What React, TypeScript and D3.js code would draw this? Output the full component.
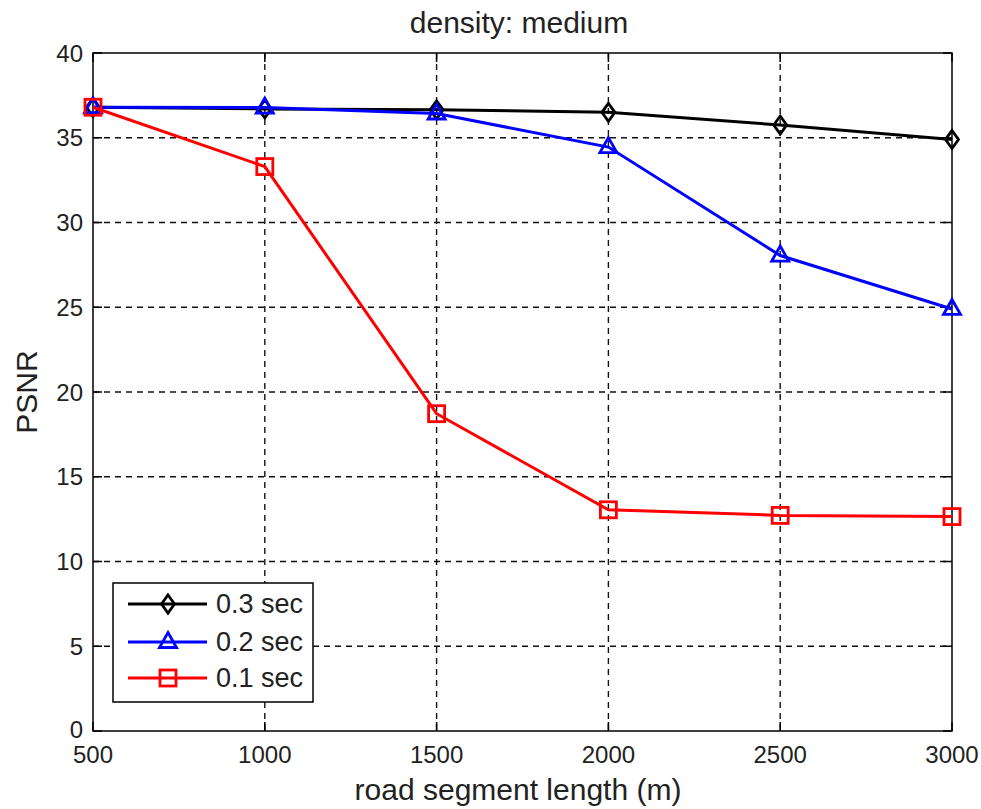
import React from "react";
import * as d3 from "d3";

const xValues = [500, 1000, 1500, 2000, 2500, 3000];
const series03 = [36.8, 36.7, 36.65, 36.5, 35.75, 34.9];
const series02 = [36.8, 36.78, 36.43, 34.45, 28.05, 24.9];
const series01 = [36.8, 33.3, 18.72, 13.05, 12.72, 12.65];
const xTicks = [500, 1000, 1500, 2000, 2500, 3000];
const yTicks = [0, 5, 10, 15, 20, 25, 30, 35, 40];
const seriesNames = ["0.3 sec", "0.2 sec", "0.1 sec"];
const seriesColors = ["#000000", "#0000ff", "#ff0000"];
const seriesMarkers = ["diamond", "triangle", "square"];

const W = 981;
const H = 809;
const M = { left: 93, right: 952, top: 53, bottom: 731 };
const FONT = "'Liberation Sans', Arial, Helvetica, sans-serif";

function Marker({ type, x, y, color }: { type: string; x: number; y: number; color: string }) {
  const sw = 2.8;
  if (type === "diamond") {
    const p = `M${x},${y - 9} L${x + 6.5},${y} L${x},${y + 9} L${x - 6.5},${y} Z`;
    return <path d={p} fill="none" stroke={color} strokeWidth={sw} />;
  }
  if (type === "triangle") {
    const p = `M${x},${y - 9.5} L${x + 8.5},${y + 5.5} L${x - 8.5},${y + 5.5} Z`;
    return <path d={p} fill="none" stroke={color} strokeWidth={sw} />;
  }
  return <rect x={x - 8} y={y - 8} width={16} height={16} fill="none" stroke={color} strokeWidth={sw} />;
}

export default function App() {
  const x = d3.scaleLinear().domain([500, 3000]).range([M.left, M.right]);
  const y = d3.scaleLinear().domain([0, 40]).range([M.bottom, M.top]);
  const line = d3
    .line<number>()
    .x((_, i) => x(xValues[i]))
    .y((d) => y(d));
  const all = [series03, series02, series01];
  const tick = 9;

  const legendRows = [604, 642, 678];

  return (
    <svg
      width={W}
      height={H}
      style={{ position: "absolute", left: 0, top: 0, background: "#fff" }}
      fontFamily={FONT}
    >
      <rect x={0} y={0} width={W} height={H} fill="#fff" />
      {/* grid */}
      {xTicks.slice(1, -1).map((t) => (
        <line key={"gx" + t} x1={x(t)} x2={x(t)} y1={M.top} y2={M.bottom} stroke="#111" strokeWidth={1.4} strokeDasharray="6,5" />
      ))}
      {yTicks.slice(1, -1).map((t) => (
        <line key={"gy" + t} x1={M.left} x2={M.right} y1={y(t)} y2={y(t)} stroke="#111" strokeWidth={1.4} strokeDasharray="6,5" />
      ))}
      {/* ticks */}
      {xTicks.map((t) => (
        <g key={"tx" + t}>
          <line x1={x(t)} x2={x(t)} y1={M.bottom} y2={M.bottom - tick} stroke="#000" strokeWidth={1.5} />
          <line x1={x(t)} x2={x(t)} y1={M.top} y2={M.top + tick} stroke="#000" strokeWidth={1.5} />
          <text x={x(t)} y={763} textAnchor="middle" fontSize={24} fill="#222">
            {t}
          </text>
        </g>
      ))}
      {yTicks.map((t) => (
        <g key={"ty" + t}>
          <line x1={M.left} x2={M.left + tick} y1={y(t)} y2={y(t)} stroke="#000" strokeWidth={1.5} />
          <line x1={M.right} x2={M.right - tick} y1={y(t)} y2={y(t)} stroke="#000" strokeWidth={1.5} />
          <text x={83} y={t === 0 ? y(t) - 2 : y(t)} textAnchor="end" dominantBaseline="central" fontSize={24} fill="#222">
            {t}
          </text>
        </g>
      ))}
      {/* box */}
      <rect x={M.left} y={M.top} width={M.right - M.left} height={M.bottom - M.top} fill="none" stroke="#000" strokeWidth={1.5} />
      {/* series */}
      {all.map((s, si) => (
        <g key={"s" + si}>
          <path d={line(s) || ""} fill="none" stroke={seriesColors[si]} strokeWidth={3} />
          {s.map((v, i) => (
            <Marker key={i} type={seriesMarkers[si]} x={x(xValues[i])} y={y(v)} color={seriesColors[si]} />
          ))}
        </g>
      ))}
      {/* legend */}
      <rect x={113} y={583} width={200} height={119} fill="#fff" stroke="#000" strokeWidth={1.5} />
      {seriesNames.map((n, i) => (
        <g key={"l" + i}>
          <line x1={128} x2={207} y1={legendRows[i]} y2={legendRows[i]} stroke={seriesColors[i]} strokeWidth={3} />
          <Marker type={seriesMarkers[i]} x={168} y={legendRows[i]} color={seriesColors[i]} />
          <text x={216} y={legendRows[i]} dominantBaseline="central" fontSize={27} fill="#222">
            {n}
          </text>
        </g>
      ))}
      {/* titles */}
      <text x={519} y={33} textAnchor="middle" fontSize={30} fill="#222">
        density: medium
      </text>
      <text x={518} y={800} textAnchor="middle" fontSize={30} fill="#222">
        road segment length (m)
      </text>
      <text transform={`translate(37,392) rotate(-90)`} textAnchor="middle" fontSize={30} fill="#222">
        PSNR
      </text>
    </svg>
  );
}
